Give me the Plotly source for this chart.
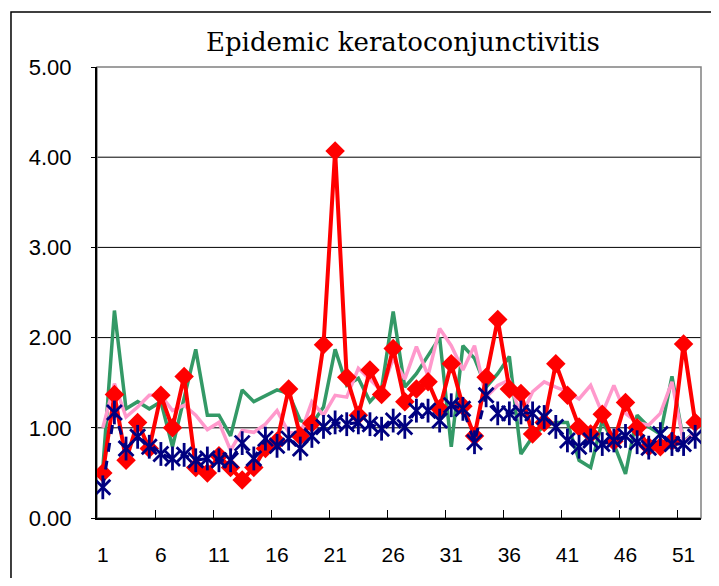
import plotly.graph_objects as go

weeks = list(range(1, 53))
tick_weeks = [1, 6, 11, 16, 21, 26, 31, 36, 41, 46, 51]
tick_labels = ["1", "6", "11", "16", "21", "26", "31", "36", "41", "46", "51"]
y_ticks = [0, 1, 2, 3, 4, 5]
grid_vals = [1, 2, 3, 4]

current = [0.50, 1.37, 0.64, 1.06, 0.77, 1.36, 1.00, 1.57, 0.56, 0.50,
           0.69, 0.56, 0.42, 0.56, 0.77, 0.85, 1.43, 0.91, 1.05, 1.92,
           4.07, 1.56, 1.14, 1.64, 1.37, 1.88, 1.29, 1.43, 1.51, 1.21,
           1.71, 1.24, 0.91, 1.56, 2.20, 1.43, 1.38, 0.93, 1.06, 1.71,
           1.36, 1.01, 0.93, 1.15, 0.85, 1.28, 1.00, 0.79, 0.79, 0.85,
           1.93, 1.06]
green = [0.55, 2.30, 1.21, 1.29, 1.21, 1.29, 0.79, 1.33, 1.87, 1.14,
         1.14, 0.91, 1.42, 1.29, 1.36, 1.42, 1.38, 1.08, 1.04, 1.23,
         1.87, 1.47, 1.55, 1.29, 1.43, 2.29, 1.45, 1.60, 1.80, 2.00,
         0.79, 1.91, 1.77, 1.45, 1.60, 1.79, 0.71, 0.90, 1.02, 1.06,
         1.06, 0.64, 0.56, 1.08, 0.82, 0.49, 1.14, 1.01, 0.93, 1.57,
         0.85, 0.95]
pink = [1.00, 1.49, 1.12, 1.23, 1.36, 1.36, 1.19, 1.25, 1.14, 0.98,
        1.06, 0.75, 0.97, 0.95, 1.04, 1.19, 0.95, 0.93, 1.29, 1.14,
        1.36, 1.34, 1.66, 1.54, 1.41, 1.77, 1.54, 1.90, 1.58, 2.10,
        1.91, 1.64, 1.91, 1.34, 1.47, 1.53, 1.12, 1.40, 1.51, 1.45,
        1.40, 1.32, 1.47, 1.16, 1.47, 1.16, 1.06, 1.03, 1.16, 1.51,
        0.84, 0.95]
navy = [0.34, 1.17, 0.77, 0.90, 0.79, 0.71, 0.66, 0.70, 0.64, 0.66,
        0.64, 0.64, 0.83, 0.66, 0.88, 0.80, 0.88, 0.77, 0.91, 1.01,
        1.06, 1.04, 1.06, 1.04, 0.99, 1.08, 1.01, 1.19, 1.19, 1.08,
        1.25, 1.21, 0.84, 1.36, 1.16, 1.16, 1.17, 1.16, 1.12, 1.01,
        0.86, 0.79, 0.86, 0.82, 0.86, 0.91, 0.84, 0.78, 0.93, 0.82,
        0.82, 0.90]

NAVY = "#000080"

fig = go.Figure()
fig.add_trace(go.Scatter(x=weeks, y=green, mode="lines",
                         line=dict(color="#339966", width=3.5)))
fig.add_trace(go.Scatter(x=weeks, y=pink, mode="lines",
                         line=dict(color="#FF99CC", width=3.5)))
fig.add_trace(go.Scatter(x=weeks, y=current, mode="lines+markers",
                         line=dict(color="#FF0000", width=4),
                         marker=dict(symbol="diamond", size=15, color="#FF0000")))
fig.add_trace(go.Scatter(x=weeks, y=navy, mode="lines+markers",
                         line=dict(color=NAVY, width=3, dash="dash"),
                         marker=dict(symbol="x-thin-open", size=15, color=NAVY,
                                     line=dict(color=NAVY, width=2.8))))
fig.add_trace(go.Scatter(x=weeks, y=navy, mode="markers",
                         marker=dict(symbol="line-ns-open", size=17, color=NAVY,
                                     line=dict(color=NAVY, width=2.8))))

shapes = []
for g in grid_vals:
    shapes.append(dict(type="line", xref="paper", yref="y", x0=0, x1=1, y0=g, y1=g,
                       line=dict(color="black", width=1), layer="below"))
# plot area border (grey)
shapes.append(dict(type="rect", xref="paper", yref="paper", x0=0, x1=1, y0=0, y1=1,
                   line=dict(color="#808080", width=1.5), layer="below"))
# outer chart border
shapes.append(dict(type="rect", xref="paper", yref="paper",
                   x0=-0.1424, x1=1.0215, y0=-0.1707, y1=1.122,
                   line=dict(color="black", width=1.5)))

fig.update_layout(
    width=711, height=570,
    margin=dict(l=89, r=18, t=59, b=60),
    paper_bgcolor="white", plot_bgcolor="white",
    showlegend=False,
    shapes=shapes,
    annotations=[dict(text="Epidemic keratoconjunctivitis", xref="paper", yref="paper",
                      x=0.5066, y=1.0554, xanchor="center", yanchor="middle",
                      showarrow=False,
                      font=dict(family="DejaVu Serif", size=26, color="black"))],
    xaxis=dict(range=[0.5, 52.5], tickmode="array", tickvals=tick_weeks,
               ticktext=tick_labels, ticks="", showgrid=False, zeroline=False,
               showline=True, linecolor="black", linewidth=2,
               ticklabelstandoff=17,
               tickfont=dict(family="Liberation Sans", size=21, color="black"),
               minor=dict(tickmode="array",
                          tickvals=[5.5, 10.5, 15.5, 20.5, 25.5, 30.5, 35.5, 40.5, 45.5, 50.5],
                          ticks="inside", ticklen=8, tickwidth=1.2,
                          tickcolor="black", showgrid=False)),
    yaxis=dict(range=[0, 5], tickmode="array", tickvals=y_ticks, tickformat=".2f",
               ticks="outside", ticklen=4, tickcolor="black",
               showgrid=False, zeroline=False,
               showline=True, linecolor="black", linewidth=2,
               ticklabelstandoff=15,
               tickfont=dict(family="Liberation Sans", size=22, color="black")),
)

fig.write_html("out.html")
